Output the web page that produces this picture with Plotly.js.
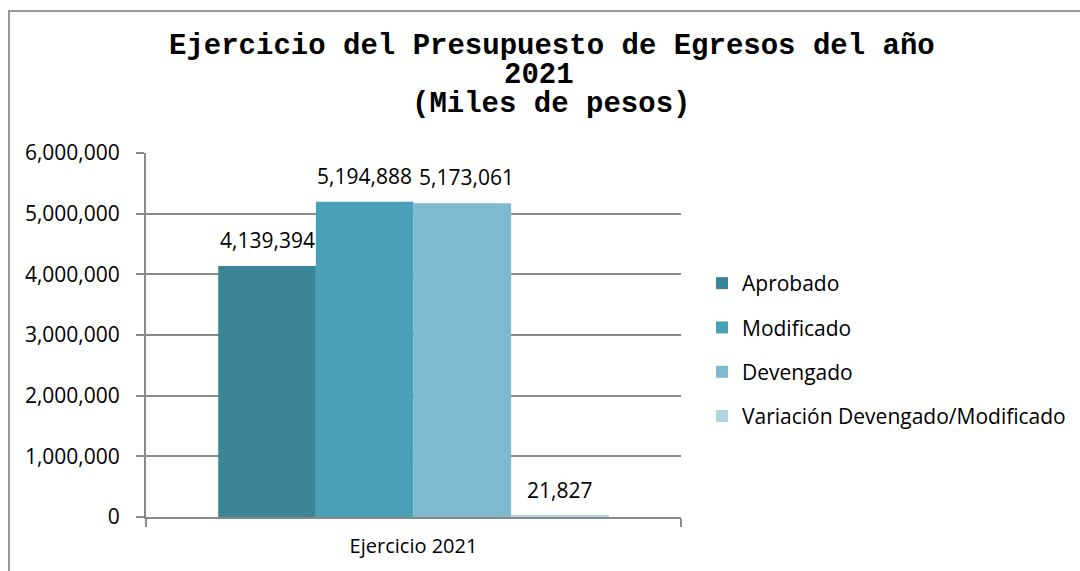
<!DOCTYPE html>
<html>
<head>
<meta charset="utf-8">
<script src="https://cdn.plot.ly/plotly-3.0.1.min.js"></script>
<style>html,body{margin:0;padding:0;background:#fff;}#chart{width:1080px;height:571px;}</style>
</head>
<body>
<div id="chart"></div>
<script>
const categories = ["Ejercicio 2021"];
const seriesNames = ["Aprobado", "Modificado", "Devengado", "Variación Devengado/Modificado"];
const aprobado = [4139394];
const modificado = [5194888];
const devengado = [5173061];
const variacion = [21827];
const yTickVals = [0, 1000000, 2000000, 3000000, 4000000, 5000000, 6000000];
const titleLines = ["Ejercicio del Presupuesto de Egresos del año", "2021", "(Miles de pesos)"];

const colors = ["#3a8597", "#48a1b9", "#7eb9cf", "#b3d5e1"];
const allSeries = [aprobado, modificado, devengado, variacion];

const W = 1080, H = 571;
const m = {l: 146, r: 399, t: 153, b: 54, autoexpand: false};
const pw = W - m.l - m.r, ph = H - m.t - m.b;
const bargap = 0.27;
const barPx = pw * (1 - bargap) / allSeries.length;
const sansFamily = "Open Sans, Noto Sans, sans-serif";
const labelFont = {family: sansFamily, size: 21, color: "#000"};
const fmt = v => v.toLocaleString("en-US");

const traces = allSeries.map((vals, i) => ({
  type: "bar",
  name: seriesNames[i],
  x: categories,
  y: vals,
  marker: {color: colors[i], line: {width: 0}},
  legendgroup: "g" + i,
  hoverinfo: "name+y"
}));

const annotations = [];
allSeries.forEach((vals, i) => {
  vals.forEach((v, j) => {
    annotations.push({
      x: categories[j], y: v, xref: "x", yref: "y",
      text: fmt(v), showarrow: false,
      xshift: (i - (allSeries.length - 1) / 2) * barPx + (i === 2 ? 4 : 0),
      yanchor: "middle", yshift: 26,
      font: labelFont
    });
  });
});
const px2x = p => (p - m.l) / pw;
const px2y = p => (H - m.b - p) / ph;
const titleY = [47, 75, 104];
const titleX = [552, 539, 551];
titleLines.forEach((t, i) => {
  annotations.push({
    xref: "paper", yref: "paper", x: px2x(titleX[i]), y: px2y(titleY[i]),
    xanchor: "center", yanchor: "middle", showarrow: false,
    text: "<b>" + t + "</b>",
    font: {family: "Liberation Mono, DejaVu Sans Mono, monospace", size: 29, color: "#000"}
  });
});

const layout = {
  width: W, height: H,
  margin: m,
  paper_bgcolor: "#fff", plot_bgcolor: "#fff",
  barmode: "group", bargap: bargap, bargroupgap: 0,
  showlegend: true,
  legend: {
    x: px2x(702), y: px2y(263), xanchor: "left", yanchor: "top",
    font: {family: sansFamily, size: 21, color: "#000"},
    tracegroupgap: 14, bgcolor: "rgba(0,0,0,0)", itemclick: false
  },
  xaxis: {
    type: "category", automargin: false,
    showline: true, linecolor: "#8a8a8a", linewidth: 2,
    ticks: "outside", tickson: "boundaries", ticklen: 8, tickcolor: "#8a8a8a", tickwidth: 2,
    ticklabelstandoff: 10,
    tickfont: {family: sansFamily, size: 20, color: "#000"},
    showgrid: false, fixedrange: true
  },
  yaxis: {
    range: [0, 6000000], automargin: false,
    tickvals: yTickVals, ticktext: yTickVals.map(fmt),
    showline: true, linecolor: "#8a8a8a", linewidth: 2,
    ticks: "outside", ticklen: 8, tickcolor: "#8a8a8a", tickwidth: 2,
    ticklabelstandoff: 12,
    showgrid: true, gridcolor: "#8a8a8a", gridwidth: 2,
    zeroline: false,
    tickfont: {family: sansFamily, size: 21, color: "#000"},
    fixedrange: true
  },
  annotations: annotations,
  shapes: [
    {type: "line", xref: "paper", yref: "paper", x0: px2x(9), x1: px2x(9), y0: px2y(10), y1: px2y(H + 5), line: {color: "#9a9a9a", width: 2}},
    {type: "line", xref: "paper", yref: "paper", x0: px2x(8), x1: px2x(W + 5), y0: px2y(11), y1: px2y(11), line: {color: "#9a9a9a", width: 2}}
  ]
};

Plotly.newPlot("chart", traces, layout, {displayModeBar: false, responsive: false});
</script>
</body>
</html>
